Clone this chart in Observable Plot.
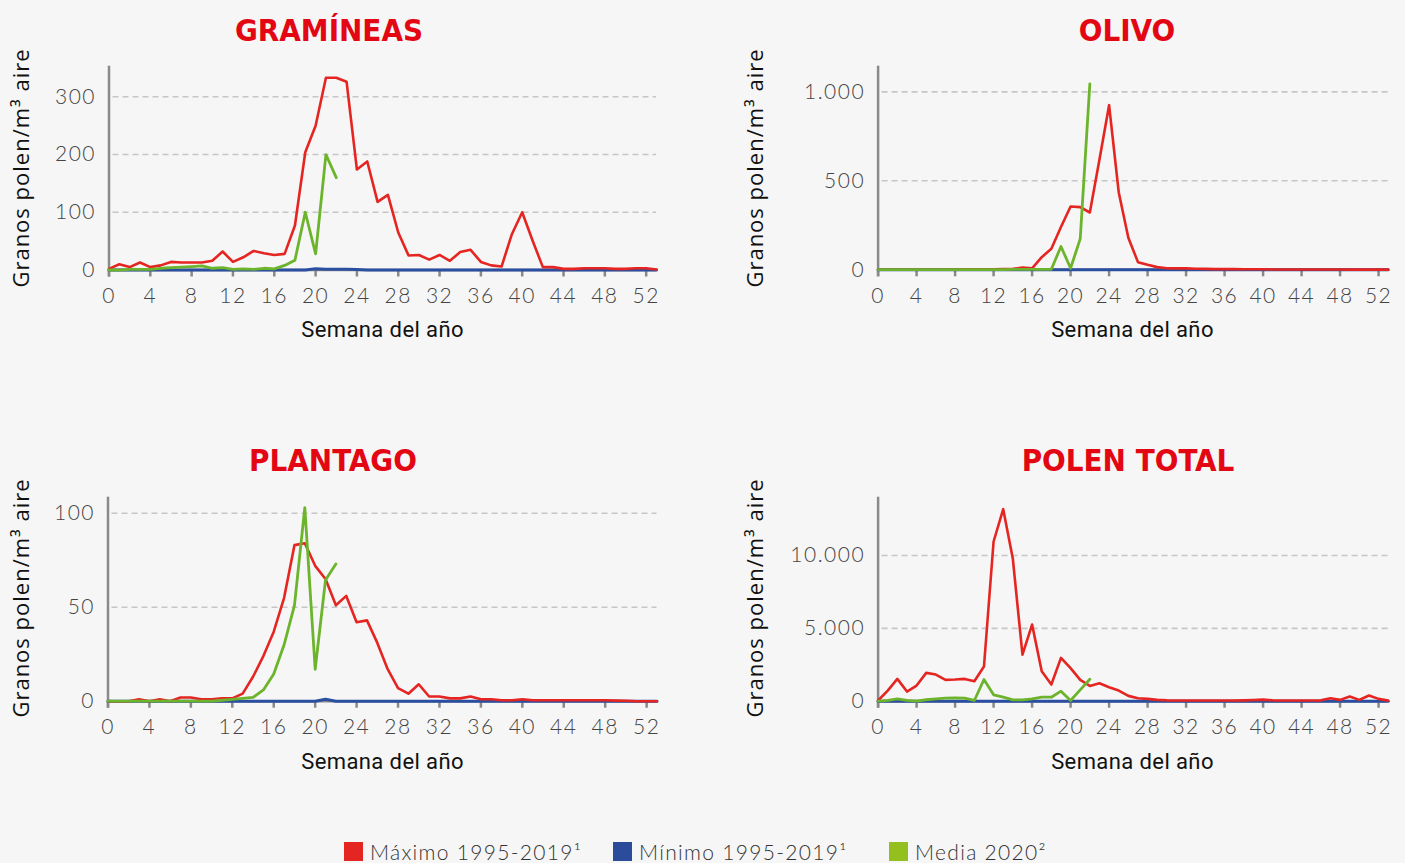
<!DOCTYPE html>
<html>
<head>
<meta charset="utf-8">
<script src="https://cdn.jsdelivr.net/npm/d3@7"></script>
<script src="https://cdn.jsdelivr.net/npm/@observablehq/plot@0.6"></script>
<style>
  html, body { margin: 0; padding: 0; background: #f6f6f6; }
  #root { position: relative; width: 1405px; height: 863px; overflow: hidden; background: #f6f6f6; }
  .panel { position: absolute; }
  .panel svg text { font-weight: 300; letter-spacing: 1.5px; }
  .title { position: absolute; transform: translateX(-50%); white-space: nowrap;
    font-family: "DejaVu Sans Condensed", "DejaVu Sans", sans-serif; font-stretch: condensed;
    font-weight: bold; font-size: 31px; color: #e30613; line-height: 1; }
  .ylab { position: absolute; white-space: nowrap; font-family: "Open Sans", sans-serif;
    font-size: 22px; color: #111; letter-spacing: 1px; line-height: 1;
    transform: translate(-50%, -50%) rotate(-90deg); }
  .xlab { position: absolute; white-space: nowrap; font-family: Roboto, sans-serif;
    font-size: 22px; color: #111; letter-spacing: 0.4px; line-height: 1;
    transform: translate(-50%, -50%); }
  .leg { position: absolute; top: 842px; height: 19px; display: flex; align-items: center; white-space: nowrap;
    font-family: Lato, sans-serif; font-weight: 300; font-size: 21px; line-height: 19px; color: #333; letter-spacing: 1.3px; }
  .sw { width: 19px; height: 19px; margin-right: 7px; flex: none; }
</style>
</head>
<body>
<div id="root"></div>
<script>
// ---- data ----
const weeks = d3.range(0, 54);
const xTicks = [0, 4, 8, 12, 16, 20, 24, 28, 32, 36, 40, 44, 48, 52];
const seriesNames = ["Máximo 1995-2019¹", "Mínimo 1995-2019¹", "Media 2020²"];
const seriesColors = ["#e52521", "#2b4c9b", "#93c01f"];
const lineColors = ["#e52521", "#2b4fa0", "#6cb42c"];
const titles = ["GRAMÍNEAS", "OLIVO", "PLANTAGO", "POLEN TOTAL"];
const yLabel = "Granos polen/m³ aire";
const xLabel = "Semana del año";

const gramMax = [2,10,5,13,5,8,14,13,13,13,16,32,14,22,33,29,26,28,77,204,250,333,333,326,174,188,118,130,65,25,26,18,26,16,31,35,14,8,6,62,100,51,5,5,2,2,3,3,3,2,2,3,3,1];
const gramMin = [0,0,0,0,0,0,0,0,0,0,0,0,0,0,0,0,0,0,0,0,2,1.5,1.5,1.5,1,0,0,0,0,0,0,0,0,0,0,0,0,0,0,0,0,0,0,0,0,0,0,0,0,0,0,0,0,0];
const gramMed = [0,0,1,1,1,3,4,5,6,7,3,4,1,2,1,3,2,8,17,100,28,200,160];

const oliMax = [0,0,0,0,0,0,0,0,1,1,2,2,3,4,5,12,8,71,118,240,356,352,322,620,925,436,180,43,28,15,9,8,8,6,5,4,4,4,3,3,3,2,2,2,2,2,2,2,2,1,1,1,1,1];
const oliMin = [0,0,0,0,0,0,0,0,0,0,0,0,0,0,0,0,0,0,0,0,0,0,0,0,0,0,0,0,0,0,0,0,0,0,0,0,0,0,0,0,0,0,0,0,0,0,0,0,0,0,0,0,0,0];
const oliMed = [1,1,1,1,1,1,1,1,1,1,1,1,1,1,2,2,2,2,3,131,9,174,1045];

const plaMax = [0,0,0,1,0,1,0,2,2,1,1,1.5,1.5,4,13,24,37,55,83,84,72,65,51,56,42,43,31,17,7,4,9,2.5,2.5,1.5,1.5,2.5,1,1,0.5,0.5,1,0.5,0.5,0.5,0.5,0.5,0.5,0.5,0.5,0.3,0.2,0,0,0];
const plaMin = [0,0,0,0,0,0,0,0,0,0,0,0,0,0,0,0,0,0,0,0,0,1,0,0,0,0,0,0,0,0,0,0,0,0,0,0,0,0,0,0,0,0,0,0,0,0,0,0,0,0,0,0,0,0];
const plaMed = [0,0,0,0,0,0,0,0,0,0,0,0.5,1,1.5,2,6,14.5,30,51,103,17,64.5,73];

const totMax = [50,730,1530,660,1075,1945,1830,1465,1490,1530,1375,2380,10960,13180,9770,3200,5260,2060,1145,2975,2265,1465,1050,1235,960,730,365,205,160,90,60,50,50,50,50,50,50,50,60,80,110,60,50,50,50,50,60,200,90,320,90,390,160,40];
const totMin = [0,0,0,0,0,0,0,0,0,0,0,0,0,0,0,0,0,0,0,0,0,0,0,0,0,0,0,0,0,0,0,0,0,0,0,0,0,0,0,0,0,0,0,0,0,0,0,0,0,0,0,0,0,0];
const totMed = [0,50,160,50,0,100,160,205,230,205,50,1490,435,275,90,90,160,275,275,690,50,780,1510];

const gramTicks = [0, 100, 200, 300];
const oliTicks = [0, 500, 1000];
const plaTicks = [0, 50, 100];
const totTicks = [0, 5000, 10000];

// ---- layout ----
const locale = d3.formatLocale({decimal: ",", thousands: ".", grouping: [3], currency: ["", "€"]});
const fmt = locale.format(",d");
const root = document.getElementById("root");

const panels = [
  {title: titles[0], max: gramMax, min: gramMin, med: gramMed, ticks: gramTicks, ymax: 353,
   left: 0, top: 0, width: 700, mL: 108.5, mR: 44, mT: 65.7, mB: 90.5, tx: 329, ty: 15, ylx: 20, yly: 167.5, xlx: 382.6, xly: 330},
  {title: titles[1], max: oliMax, min: oliMin, med: oliMed, ticks: oliTicks, ymax: 1144,
   left: 700, top: 0, width: 705, mL: 177.6, mR: 17.3, mT: 65.7, mB: 90.7, tx: 1127, ty: 15, ylx: 754, yly: 167.5, xlx: 1132.5, xly: 330},
  {title: titles[2], max: plaMax, min: plaMin, med: plaMed, ticks: plaTicks, ymax: 108.5,
   left: 0, top: 430, width: 700, mL: 107.5, mR: 43.5, mT: 66.7, mB: 89.3, tx: 333, ty: 445, ylx: 20, yly: 597.5, xlx: 382.6, xly: 761.7},
  {title: titles[3], max: totMax, min: totMin, med: totMed, ticks: totTicks, ymax: 14000,
   left: 700, top: 430, width: 705, mL: 177.6, mR: 17.3, mT: 66.7, mB: 89.3, tx: 1128, ty: 445, ylx: 754, yly: 597.5, xlx: 1132.5, xly: 761.7}
];

for (const p of panels) {
  const rows = (arr) => arr.map((v, i) => ({week: weeks[i], v}));
  const chart = Plot.plot({
    width: p.width, height: 360,
    marginLeft: p.mL, marginRight: p.mR, marginTop: p.mT, marginBottom: p.mB,
    style: {background: "transparent", fontFamily: "Lato, sans-serif", fontSize: "21px", color: "#444", overflow: "visible"},
    x: {domain: [0, 53]},
    y: {domain: [0, p.ymax]},
    marks: [
      Plot.ruleY(p.ticks.filter(d => d > 0), {stroke: "#c6c6c6", strokeWidth: 1.6, strokeDasharray: "6,4", insetLeft: 4}),
      Plot.axisX({ticks: xTicks, tickSize: 7, tickPadding: 11, stroke: "#888", strokeWidth: 2.5, fill: "#444", label: null}),
      Plot.axisY({ticks: p.ticks, tickSize: 0, tickPadding: 13, tickFormat: fmt, fill: "#444", label: null}),
      Plot.ruleY([0], {stroke: "#8a8a8a", strokeWidth: 2.5}),
      Plot.ruleX([0], {stroke: "#8a8a8a", strokeWidth: 2.5, insetBottom: -7}),
      Plot.lineY(rows(p.min), {x: "week", y: "v", stroke: lineColors[1], strokeWidth: 3}),
      Plot.lineY(rows(p.max), {x: "week", y: "v", stroke: lineColors[0], strokeWidth: 2.6}),
      Plot.lineY(rows(p.med), {x: "week", y: "v", stroke: lineColors[2], strokeWidth: 2.8})
    ]
  });
  const wrap = document.createElement("div");
  wrap.className = "panel";
  wrap.style.left = p.left + "px";
  wrap.style.top = p.top + "px";
  wrap.appendChild(chart);
  root.appendChild(wrap);

  const t = document.createElement("div");
  t.className = "title"; t.textContent = p.title;
  t.style.left = p.tx + "px"; t.style.top = p.ty + "px";
  root.appendChild(t);

  const yl = document.createElement("div");
  yl.className = "ylab"; yl.textContent = yLabel;
  yl.style.left = p.ylx + "px"; yl.style.top = p.yly + "px";
  root.appendChild(yl);

  const xl = document.createElement("div");
  xl.className = "xlab"; xl.textContent = xLabel;
  xl.style.left = p.xlx + "px"; xl.style.top = p.xly + "px";
  root.appendChild(xl);
}

// legend
const legLefts = [344, 613, 889];
seriesNames.forEach((name, i) => {
  const item = document.createElement("div");
  item.className = "leg";
  item.style.left = legLefts[i] + "px";
  const sw = document.createElement("div");
  sw.className = "sw"; sw.style.background = seriesColors[i];
  const tx = document.createElement("span");
  tx.textContent = name;
  item.appendChild(sw); item.appendChild(tx);
  root.appendChild(item);
});
</script>
</body>
</html>
